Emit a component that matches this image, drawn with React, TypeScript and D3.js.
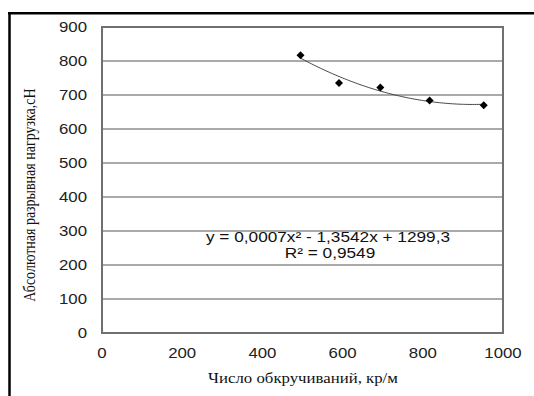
import React from "react";
import * as d3 from "d3";

const xValues = [495, 591, 694, 817, 952];
const yValues = [817, 735, 722, 684, 670];
const xTicks = [0, 200, 400, 600, 800, 1000];
const yTicks = [0, 100, 200, 300, 400, 500, 600, 700, 800, 900];
const equationText = "y = 0,0007x² - 1,3542x + 1299,3";
const r2Text = "R² = 0,9549";
const xTitle = "Число обкручиваний, кр/м";
const yTitle = "Абсолютная разрывная нагрузка,сН";

function quadFit(xs: number[], ys: number[]) {
  const n = xs.length;
  const s = [0, 0, 0, 0, 0];
  const t = [0, 0, 0];
  for (let i = 0; i < n; i++) {
    const xv = xs[i], yv = ys[i];
    for (let k = 0; k < 5; k++) s[k] += Math.pow(xv, k);
    for (let k = 0; k < 3; k++) t[k] += yv * Math.pow(xv, k);
  }
  const M = [
    [s[0], s[1], s[2], t[0]],
    [s[1], s[2], s[3], t[1]],
    [s[2], s[3], s[4], t[2]],
  ];
  for (let i = 0; i < 3; i++) {
    let p = i;
    for (let r = i + 1; r < 3; r++) if (Math.abs(M[r][i]) > Math.abs(M[p][i])) p = r;
    [M[i], M[p]] = [M[p], M[i]];
    for (let r = 0; r < 3; r++) {
      if (r === i) continue;
      const f = M[r][i] / M[i][i];
      for (let c = i; c < 4; c++) M[r][c] -= f * M[i][c];
    }
  }
  const c = M[0][3] / M[0][0];
  const b = M[1][3] / M[1][1];
  const a = M[2][3] / M[2][2];
  return (xv: number) => a * xv * xv + b * xv + c;
}

export default function App() {
  const W = 534, H = 396;
  const left = 102, right = 503, top = 27, bottom = 333;
  const x = d3.scaleLinear().domain([0, 1000]).range([left, right]);
  const y = d3.scaleLinear().domain([0, 900]).range([bottom, top]);
  const f = quadFit(xValues, yValues);
  const x0 = d3.min(xValues)!, x1 = d3.max(xValues)!;
  const curvePts = d3.range(0, 101).map((i) => {
    const xv = x0 + ((x1 - x0) * i) / 100;
    return [x(xv), y(f(xv))] as [number, number];
  });
  const line = d3.line().curve(d3.curveLinear);
  const sx = 1.2;
  const sans = "'Liberation Sans', Arial, sans-serif";
  const serif = "'Liberation Serif', 'Times New Roman', serif";
  const diamond = (cx: number, cy: number, r: number) =>
    `M${cx},${cy - r}L${cx + r},${cy}L${cx},${cy + r}L${cx - r},${cy}Z`;

  return (
    <svg
      width={W}
      height={H}
      style={{ position: "absolute", left: 0, top: 0, background: "#fff" }}
    >
      <rect x={0} y={0} width={W} height={H} fill="#fff" />
      <line x1={8} x2={W} y1={13.2} y2={13.2} stroke="#000" strokeWidth={2.5} />
      <line x1={9.5} x2={9.5} y1={12} y2={H} stroke="#000" strokeWidth={2.5} />
      {yTicks.map((t) => (
        <line
          key={"g" + t}
          x1={left}
          x2={right}
          y1={y(t)}
          y2={y(t)}
          stroke="#8c8c8c"
          strokeWidth={1.5}
        />
      ))}
      <rect
        x={left}
        y={top}
        width={right - left}
        height={bottom - top}
        fill="none"
        stroke="#707070"
        strokeWidth={2}
      />
      {yTicks.map((t) => (
        <text
          key={"yl" + t}
          transform={`translate(87,${y(t) + 5}) scale(${sx},1)`}
          textAnchor="end"
          fontFamily={sans}
          fontSize={14}
          fill="#222"
        >
          {t}
        </text>
      ))}
      {xTicks.map((t) => (
        <text
          key={"xl" + t}
          transform={`translate(${x(t)},${358}) scale(${sx},1)`}
          textAnchor="middle"
          fontFamily={sans}
          fontSize={14}
          fill="#222"
        >
          {t}
        </text>
      ))}
      <path d={line(curvePts)!} fill="none" stroke="#444" strokeWidth={1} />
      {xValues.map((xv, i) => (
        <path key={"p" + i} d={diamond(x(xv), y(yValues[i]), 4)} fill="#000" />
      ))}
      <text
        transform={`translate(328,241.5) scale(1.23,1)`}
        textAnchor="middle"
        fontFamily={sans}
        fontSize={14}
        fill="#111"
      >
        {equationText}
      </text>
      <text
        transform={`translate(330,257.5) scale(1.23,1)`}
        textAnchor="middle"
        fontFamily={sans}
        fontSize={14}
        fill="#111"
      >
        {r2Text}
      </text>
      <text
        transform={`translate(303,382.5) scale(${sx},1)`}
        textAnchor="middle"
        fontFamily={serif}
        fontSize={14}
        fill="#111"
      >
        {xTitle}
      </text>
      <text
        transform={`translate(35,195) rotate(-90) scale(1,${sx})`}
        textAnchor="middle"
        fontFamily={serif}
        fontSize={14}
        fill="#111"
      >
        {yTitle}
      </text>
    </svg>
  );
}
